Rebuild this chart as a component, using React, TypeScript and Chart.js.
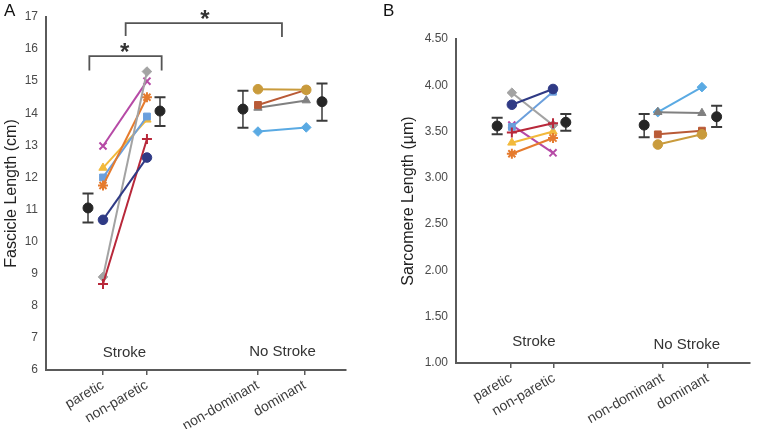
import React, { useEffect, useRef } from "react";
import { Chart, registerables } from "chart.js";
Chart.register(...registerables);

const FONT = "'Liberation Sans', Arial, Helvetica, sans-serif";
const AXIS_COLOR = "#5a5a5a";
const TICK_COLOR = "#4a4a4a";

const X_LABELS = ["paretic", "non-paretic", "non-dominant", "dominant"];

// Subject styles
const STROKE_COLORS = ["#2f3a85", "#b8283a", "#a3a3a3", "#e57b2e", "#6b9fdc", "#f2b93b", "#b64aa6"];
const STROKE_SHAPES = ["circle", "cross", "rectRot", "star", "rect", "triangle", "crossRot"];
const NOSTROKE_COLORS = ["#c99b3c", "#b95a36", "#808080", "#5aaae3"];
const NOSTROKE_SHAPES = ["circle", "rect", "triangle", "rectRot"];

// ---- Panel A: fascicle length (cm)
const A_TICK_POS = [3.8, 6.73, 14.13, 17.25];
const A_POINT_POS = [3.8, 6.73, 14.13, 17.35];
const A_MEAN_POS = [2.8, 7.6, 13.13, 18.4];
const A_PARETIC = [10.68, 8.68, 8.9, 11.75, 12.0, 12.3, 12.98];
const A_NONPARETIC = [12.62, 13.2, 15.3, 14.5, 13.9, 13.8, 15.0];
const A_NONDOMINANT = [14.75, 14.26, 14.17, 13.43];
const A_DOMINANT = [14.73, 14.73, 14.4, 13.56];
const A_MEAN = [11.05, 14.07, 14.13, 14.36];
const A_ERR_HI = [11.5, 14.5, 14.7, 14.93];
const A_ERR_LO = [10.6, 13.6, 13.55, 13.77];

// ---- Panel B: sarcomere length (µm)
const B_TICK_POS = [3.73, 6.67, 14.07, 17.13];
const B_POINT_POS = [3.8, 6.6, 13.73, 16.73];
const B_MEAN_POS = [2.8, 7.47, 12.8, 17.73];
const B_PARETIC = [3.79, 3.49, 3.92, 3.26, 3.55, 3.38, 3.57];
const B_NONPARETIC = [3.96, 3.59, 3.57, 3.43, 3.93, 3.5, 3.27];
const B_NONDOMINANT = [3.36, 3.47, 3.71, 3.71];
const B_DOMINANT = [3.47, 3.51, 3.7, 3.98];
const B_MEAN = [3.56, 3.6, 3.57, 3.66];
const B_ERR_HI = [3.65, 3.69, 3.69, 3.78];
const B_ERR_LO = [3.47, 3.51, 3.44, 3.55];

type Overlay = {
  panel: string;
  panelX: number;
  yTitle: string;
  yTitleX: number;
  groups: { text: string; x: number; y: number }[];
  brackets: { x1: number; x2: number; top: number; bot1: number; bot2: number }[];
  stars: { x: number; y: number }[];
  meanPos: number[];
  hi: number[];
  lo: number[];
};

function makeOverlay(cfg: Overlay) {
  return {
    id: "overlay",
    beforeDatasetsDraw(chart: any) {
      const { ctx } = chart;
      const x = chart.scales.x;
      const y = chart.scales.y;
      ctx.save();
      ctx.strokeStyle = "#3a3a3a";
      cfg.meanPos.forEach((p, i) => {
        const px = x.getPixelForValue(p);
        const hi = y.getPixelForValue(cfg.hi[i]);
        const lo = y.getPixelForValue(cfg.lo[i]);
        ctx.lineWidth = 1.5;
        ctx.beginPath();
        ctx.moveTo(px, hi);
        ctx.lineTo(px, lo);
        ctx.stroke();
        ctx.lineWidth = 2;
        ctx.beginPath();
        ctx.moveTo(px - 5.5, hi);
        ctx.lineTo(px + 5.5, hi);
        ctx.moveTo(px - 5.5, lo);
        ctx.lineTo(px + 5.5, lo);
        ctx.stroke();
      });
      ctx.restore();
    },
    afterDraw(chart: any) {
      const { ctx, chartArea } = chart;
      const x = chart.scales.x;
      const y = chart.scales.y;
      ctx.save();
      ctx.fillStyle = "#111";
      ctx.font = `17px ${FONT}`;
      ctx.textAlign = "left";
      ctx.textBaseline = "top";
      ctx.fillText(cfg.panel, cfg.panelX, 3);
      ctx.save();
      ctx.translate(cfg.yTitleX, (chartArea.top + chartArea.bottom) / 2);
      ctx.rotate(-Math.PI / 2);
      ctx.textAlign = "center";
      ctx.textBaseline = "middle";
      ctx.font = `16px ${FONT}`;
      ctx.fillStyle = "#222";
      ctx.fillText(cfg.yTitle, 0, 0);
      ctx.restore();
      ctx.font = `15px ${FONT}`;
      ctx.fillStyle = "#333";
      ctx.textAlign = "center";
      ctx.textBaseline = "middle";
      cfg.groups.forEach((g) => {
        ctx.fillText(g.text, x.getPixelForValue(g.x), y.getPixelForValue(g.y));
      });
      ctx.strokeStyle = "#555";
      ctx.lineWidth = 1.8;
      cfg.brackets.forEach((b) => {
        const x1 = x.getPixelForValue(b.x1);
        const x2 = x.getPixelForValue(b.x2);
        ctx.beginPath();
        ctx.moveTo(x1, y.getPixelForValue(b.bot1));
        ctx.lineTo(x1, y.getPixelForValue(b.top));
        ctx.lineTo(x2, y.getPixelForValue(b.top));
        ctx.lineTo(x2, y.getPixelForValue(b.bot2));
        ctx.stroke();
      });
      const size = 24;
      ctx.font = `bold ${size}px ${FONT}`;
      ctx.fillStyle = "#333";
      ctx.textAlign = "center";
      ctx.textBaseline = "alphabetic";
      cfg.stars.forEach((s) => {
        ctx.fillText("*", x.getPixelForValue(s.x), y.getPixelForValue(s.y) + size * 0.56);
      });
      ctx.restore();
    },
  };
}

function buildDatasets(
  pointPos: number[],
  paretic: number[],
  nonparetic: number[],
  nondom: number[],
  dom: number[],
  meanPos: number[],
  mean: number[]
) {
  const ds: any[] = [];
  paretic.forEach((v, i) => {
    const c = STROKE_COLORS[i];
    const shape = STROKE_SHAPES[i];
    const strokeOnly = shape.startsWith("cross") || shape === "star";
    ds.push({
      type: "line",
      data: [
        { x: pointPos[0], y: v },
        { x: pointPos[1], y: nonparetic[i] },
      ],
      borderColor: c,
      backgroundColor: c,
      borderWidth: 2,
      pointStyle: shape,
      pointRadius: strokeOnly ? 5 : 4.8,
      pointBorderWidth: strokeOnly ? 2 : 1,
      fill: false,
      tension: 0,
    });
  });
  nondom.forEach((v, i) => {
    const c = NOSTROKE_COLORS[i];
    ds.push({
      type: "line",
      data: [
        { x: pointPos[2], y: v },
        { x: pointPos[3], y: dom[i] },
      ],
      borderColor: c,
      backgroundColor: c,
      borderWidth: 2,
      pointStyle: NOSTROKE_SHAPES[i],
      pointRadius: 4.8,
      pointBorderWidth: 1,
      fill: false,
      tension: 0,
    });
  });
  ds.push({
    type: "scatter",
    data: mean.map((m, i) => ({ x: meanPos[i], y: m })),
    backgroundColor: "#262626",
    borderColor: "#262626",
    pointRadius: 5,
    showLine: false,
  });
  return ds;
}

function makeConfig(p: {
  datasets: any[];
  tickPos: number[];
  yMin: number;
  yMax: number;
  yStep: number;
  yFmt: (v: number) => string;
  yWidth: number;
  xHeight: number;
  padding: any;
  overlay: Overlay;
}) {
  return {
    type: "line",
    data: { datasets: p.datasets },
    options: {
      animation: false,
      responsive: false,
      devicePixelRatio: 1,
      layout: { padding: p.padding },
      plugins: { legend: { display: false }, tooltip: { enabled: false } },
      scales: {
        x: {
          type: "linear",
          min: 0,
          max: 20,
          afterBuildTicks: (scale: any) => {
            scale.ticks = p.tickPos.map((v) => ({ value: v }));
          },
          afterFit: (scale: any) => {
            scale.height = p.xHeight;
          },
          grid: {
            drawOnChartArea: false,
            drawTicks: true,
            tickLength: 5,
            color: AXIS_COLOR,
            lineWidth: 1.5,
          },
          border: { color: AXIS_COLOR, width: 2 },
          ticks: {
            autoSkip: false,
            maxRotation: 30,
            minRotation: 30,
            padding: 2,
            color: "#3c3c3c",
            font: { family: FONT, size: 14 },
            callback: (_v: any, i: number) => X_LABELS[i],
          },
        },
        y: {
          type: "linear",
          min: p.yMin,
          max: p.yMax,
          afterFit: (scale: any) => {
            scale.width = p.yWidth;
          },
          grid: { drawOnChartArea: false, drawTicks: false },
          border: { color: AXIS_COLOR, width: 2 },
          ticks: {
            stepSize: p.yStep,
            padding: 8,
            color: TICK_COLOR,
            font: { family: FONT, size: 12 },
            callback: (v: any) => p.yFmt(Number(v)),
          },
        },
      },
    },
    plugins: [makeOverlay(p.overlay)],
  };
}

export default function App() {
  const refA = useRef<HTMLCanvasElement>(null);
  const refB = useRef<HTMLCanvasElement>(null);

  useEffect(() => {
    const chartA = new Chart(
      refA.current as HTMLCanvasElement,
      makeConfig({
        datasets: buildDatasets(A_POINT_POS, A_PARETIC, A_NONPARETIC, A_NONDOMINANT, A_DOMINANT, A_MEAN_POS, A_MEAN),
        tickPos: A_TICK_POS,
        yMin: 6,
        yMax: 17,
        yStep: 1,
        yFmt: (v) => String(v),
        yWidth: 46,
        xHeight: 59,
        padding: { left: 0, top: 17, right: 32, bottom: 0 },
        overlay: {
          panel: "A",
          panelX: 4,
          yTitle: "Fascicle Length (cm)",
          yTitleX: 12,
          groups: [
            { text: "Stroke", x: 5.23, y: 6.53 },
            { text: "No Stroke", x: 15.77, y: 6.56 },
          ],
          brackets: [
            { x1: 2.89, x2: 7.71, top: 15.78, bot1: 15.33, bot2: 15.33 },
            { x1: 5.31, x2: 15.73, top: 16.81, bot1: 16.41, bot2: 16.38 },
          ],
          stars: [
            { x: 5.25, y: 16.07 },
            { x: 10.6, y: 17.1 },
          ],
          meanPos: A_MEAN_POS,
          hi: A_ERR_HI,
          lo: A_ERR_LO,
        },
      }) as any
    );
    const chartB = new Chart(
      refB.current as HTMLCanvasElement,
      makeConfig({
        datasets: buildDatasets(B_POINT_POS, B_PARETIC, B_NONPARETIC, B_NONDOMINANT, B_DOMINANT, B_MEAN_POS, B_MEAN),
        tickPos: B_TICK_POS,
        yMin: 1,
        yMax: 4.5,
        yStep: 0.5,
        yFmt: (v) => v.toFixed(2),
        yWidth: 78,
        xHeight: 66,
        padding: { left: 0, top: 39, right: 2, bottom: 0 },
        overlay: {
          panel: "B",
          panelX: 5,
          yTitle: "Sarcomere Length (\u00b5m)",
          yTitleX: 31,
          groups: [
            { text: "Stroke", x: 5.3, y: 1.23 },
            { text: "No Stroke", x: 15.7, y: 1.2 },
          ],
          brackets: [],
          stars: [],
          meanPos: B_MEAN_POS,
          hi: B_ERR_HI,
          lo: B_ERR_LO,
        },
      }) as any
    );
    return () => {
      chartA.destroy();
      chartB.destroy();
    };
  }, []);

  return (
    <div
      style={{
        position: "fixed",
        left: 0,
        top: 0,
        width: 757,
        height: 429,
        background: "#fff",
      }}
    >
      <canvas ref={refA} width={378} height={429} style={{ position: "absolute", left: 0, top: 0 }} />
      <canvas ref={refB} width={379} height={429} style={{ position: "absolute", left: 378, top: 0 }} />
    </div>
  );
}
